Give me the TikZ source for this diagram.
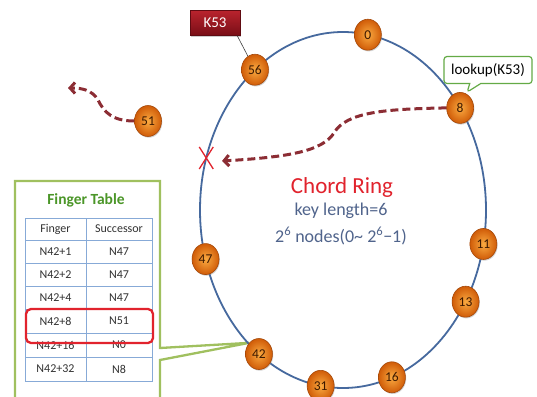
\documentclass[tikz,border=0pt]{standalone}
\usepackage{fontspec}
\setmainfont{Carlito}
\usetikzlibrary{shapes.geometric,shapes.callouts,arrows.meta,shadows,calc,backgrounds}

\definecolor{ringblue}{RGB}{70,105,158}
\definecolor{ballhi}{RGB}{250,170,65}
\definecolor{balllo}{RGB}{208,92,8}
\definecolor{ballrim}{RGB}{165,72,8}
\definecolor{ballnum}{RGB}{60,25,0}
\definecolor{hopred}{RGB}{140,45,52}
\definecolor{framegreen}{RGB}{160,192,95}
\definecolor{titlegreen}{RGB}{75,150,40}
\definecolor{gridblue}{RGB}{135,170,215}
\definecolor{markred}{RGB}{225,35,45}
\definecolor{textblue}{RGB}{80,100,140}
\definecolor{keytop}{RGB}{185,35,45}
\definecolor{keybot}{RGB}{120,14,22}
\definecolor{callgreen}{RGB}{100,170,70}
\definecolor{celltext}{RGB}{50,50,50}

\begin{document}
\begin{tikzpicture}[x=1pt,y=-1pt,
  ball/.style={ellipse, minimum width=27pt, minimum height=31pt, inner sep=0pt,
    shading=radial, inner color=ballhi, outer color=balllo, draw=ballrim,
    line width=0.6pt, text=ballnum, font=\fontsize{13.5}{13.5}\selectfont,
    drop shadow={shadow xshift=0.8pt, shadow yshift=-1.2pt, opacity=0.35}},
  hop/.style={hopred, line width=3pt, dash pattern=on 8pt off 4pt,
    -{Straight Barb[length=5pt,width=11pt]}},
  cell/.style={text=celltext, font=\fontsize{12}{12}\selectfont, inner sep=0pt},
  keybox/.style={rectangle, minimum width=50pt, minimum height=25pt,
    top color=keytop, bottom color=keybot, draw=keybot!80!black, line width=0.5pt,
    text=white, font=\fontsize{15}{15}\selectfont,
    drop shadow={shadow xshift=1pt, shadow yshift=-1.5pt, opacity=0.4}},
  tabline/.style={gridblue, line width=0.8pt}
]
\useasboundingbox (0,0) rectangle (537,396);
\clip (0,0) rectangle (537,396);

% ring members
\foreach \lab/\ang in {0/80,8/35,11/-11,13/-31,16/-70,31/-99,42/-126,47/196,56/128}
  \node[ball] (n\lab) at ({343+143*cos(\ang)},{210-178*sin(\ang)}) {\lab};
\node[ball] (n51) at (148,121) {51};

% failed position on the ring
\coordinate (xm) at ({343+143*cos(163)},{210-178*sin(163)});

\begin{scope}[on background layer]
  \fill[white] (0,0) rectangle (537,396);
  % finger table panel with its pointer to node 42
  \coordinate (ptip) at (n42.north west);
  \draw[framegreen, line width=2.3pt, fill=white, line join=miter]
    (ptip) -- (160,348) -- (160,181) -- (15,181) -- (15,402) -- (160,402) -- (160,360) -- cycle;
  % the ring
  \draw[ringblue, line width=1.8pt] (343,210) ellipse [x radius=143, y radius=178];
\end{scope}

% finger table
\node[font=\bfseries\fontsize{15.5}{15.5}\selectfont, text=titlegreen] (ftitle) at (86,200) {Finger Table};
\draw[tabline] (25,218) rectangle (152,381);
\foreach \y in {240,263,286,309,333,357} \draw[tabline] (25,\y) -- (152,\y);
\draw[tabline] (86,218) -- (86,381);
\foreach \i/\y/\f/\s in {0/229/Finger/Successor, 1/251.5/N42+1/N47, 2/274.5/N42+2/N47,
    3/297.5/N42+4/N47, 4/321/N42+8/N51, 5/345/N42+16/N0, 6/369/N42+32/N8}{
  \node[cell] (f\i) at (55.5,\y) {\f};
  \node[cell] (s\i) at (119,\y) {\s};
}
\draw[markred, line width=2.3pt, rounded corners=5pt] (26,309) rectangle (153,343);

% ring caption
\node[text=markred, font=\fontsize{23}{23}\selectfont] (title) at (342,187) {Chord Ring};
\node[text=textblue, font=\fontsize{18}{18}\selectfont] (keylen) at (341,211) {key length=6};
\node[text=textblue, font=\fontsize{18}{18}\selectfont] (range) at (341,236)
  {2\textsuperscript{6} nodes(0\char"007E\ 2\textsuperscript{6}\char"2212 1)};

% key being looked up
\node[keybox] (k53) at (215,23) {K53};
\draw[gray!50!black, line width=0.6pt] ([xshift=-3pt]k53.south east) -- (n56);

% lookup request at node 8
\node[rectangle callout, draw=callgreen, line width=1.2pt, fill=white, rounded corners=3pt,
  minimum width=88pt, minimum height=27pt, callout pointer width=11pt,
  callout absolute pointer={([xshift=7pt]n8.north)}, font=\fontsize{15}{15}\selectfont]
  (lookup) at (488,70) {lookup(K53)};

% forwarding hops
\coordinate (xtip) at (222,161);
\draw[hop] (n8.west) .. controls (385,109) and (346,112) .. (334,133)
  .. controls (322,151) and (290,157) .. (xtip);
\coordinate (ltip) at (68,88);
\draw[hop] (n51.west) .. controls (112,121) and (104,112) .. (98,100)
  .. controls (92,90) and (82,88) .. (ltip);

% failure mark
\draw[markred, line width=1.3pt] ($(xm)+(-7,-11)$) -- ($(xm)+(7,11)$)
  ($(xm)+(7,-11)$) -- ($(xm)+(-7,11)$);
\end{tikzpicture}
\end{document}
